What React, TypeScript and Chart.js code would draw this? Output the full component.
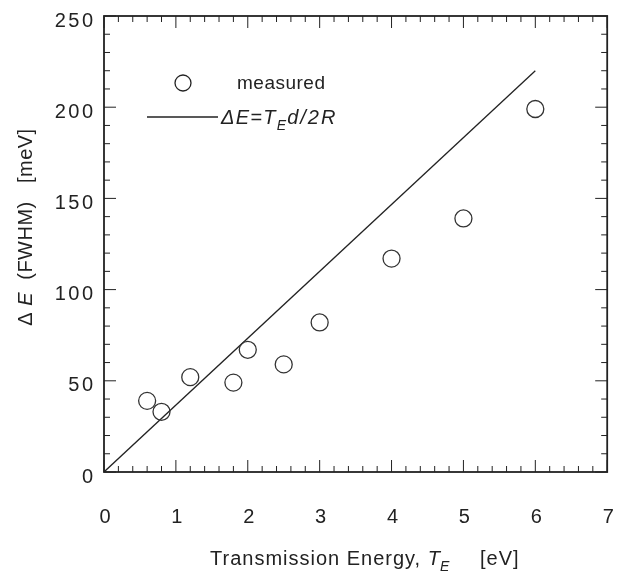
import React, { useEffect, useRef } from "react";
import { Chart, registerables } from "chart.js";

Chart.register(...registerables);

const xTickValues = [0, 1, 2, 3, 4, 5, 6, 7];
const yTickValues = [0, 50, 100, 150, 200, 250];
const energy = [0.6, 0.8, 1.2, 1.8, 2.0, 2.5, 3.0, 4.0, 5.0, 6.0];
const fwhm = [39, 33, 52, 49, 67, 59, 82, 117, 139, 199];
const lineX = [0, 6];
const lineY = [0, 220];

const FONT = "'Liberation Sans', Arial, Helvetica, sans-serif";
const INK = "#222";

type Piece = { t: string; font: string; dy?: number; ls?: number };

function drawPieces(ctx: CanvasRenderingContext2D, pieces: Piece[], x: number, y: number) {
  let cx = x;
  for (const p of pieces) {
    ctx.font = p.font;
    (ctx as any).letterSpacing = `${p.ls || 0}px`;
    ctx.fillText(p.t, cx, y + (p.dy || 0));
    cx += ctx.measureText(p.t).width;
  }
  (ctx as any).letterSpacing = "0px";
  return cx - x;
}
function measurePieces(ctx: CanvasRenderingContext2D, pieces: Piece[]) {
  let w = 0;
  for (const p of pieces) {
    ctx.font = p.font;
    (ctx as any).letterSpacing = `${p.ls || 0}px`;
    w += ctx.measureText(p.t).width;
  }
  (ctx as any).letterSpacing = "0px";
  return w;
}

const decorPlugin = {
  id: "decor",
  afterDraw(chart: any) {
    const ctx: CanvasRenderingContext2D = chart.ctx;
    const xs = chart.scales.x;
    const ys = chart.scales.y;
    const { left, right, top, bottom } = chart.chartArea;
    ctx.save();
    ctx.strokeStyle = INK;
    // frame
    ctx.lineWidth = 1.8;
    ctx.strokeRect(left, top, right - left, bottom - top);
    // ticks
    ctx.lineWidth = 1;
    for (let i = 0; i <= 35; i++) {
      const v = i * 0.2;
      const px = xs.getPixelForValue(v);
      const len = i % 5 === 0 ? 12 : 6;
      ctx.beginPath();
      ctx.moveTo(px, bottom);
      ctx.lineTo(px, bottom - len);
      ctx.moveTo(px, top);
      ctx.lineTo(px, top + len);
      ctx.stroke();
    }
    for (let i = 0; i <= 25; i++) {
      const v = i * 10;
      const py = ys.getPixelForValue(v);
      const len = i % 5 === 0 ? 12 : 6;
      ctx.beginPath();
      ctx.moveTo(left, py);
      ctx.lineTo(left + len, py);
      ctx.moveTo(right, py);
      ctx.lineTo(right - len, py);
      ctx.stroke();
    }
    ctx.fillStyle = INK;
    ctx.textBaseline = "alphabetic";
    ctx.textAlign = "left";
    // tick labels
    const tickFont = `20px ${FONT}`;
    for (const v of xTickValues) {
      const s = String(v);
      const w = measurePieces(ctx, [{ t: s, font: tickFont, ls: 1.5 }]) - 1.5;
      drawPieces(ctx, [{ t: s, font: tickFont, ls: 1.5 }], xs.getPixelForValue(v) - w / 2 + 1, 523);
    }
    for (const v of yTickValues) {
      const s = String(v);
      const w = measurePieces(ctx, [{ t: s, font: tickFont, ls: 2.5 }]) - 2.5;
      drawPieces(ctx, [{ t: s, font: tickFont, ls: 2.5 }], 93 - w, ys.getPixelForValue(v) + 10.5);
    }
    // legend
    ctx.lineWidth = 1.3;
    ctx.beginPath();
    ctx.arc(183, 83, 8, 0, Math.PI * 2);
    ctx.stroke();
    drawPieces(ctx, [{ t: "measured", font: `19px ${FONT}`, ls: 0.5 }], 237, 89);
    ctx.beginPath();
    ctx.moveTo(147, 117);
    ctx.lineTo(218, 117);
    ctx.stroke();
    drawPieces(ctx, [
      { t: "ΔE=T", font: `italic 20px ${FONT}`, ls: 1.3 },
      { t: "E", font: `italic 14px ${FONT}`, dy: 6, ls: 1 },
      { t: "d/2R", font: `italic 20px ${FONT}`, ls: 2 },
    ], 221, 124);
    // x title
    const tEnd = drawPieces(ctx, [
      { t: "Transmission Energy, ", font: `20px ${FONT}`, ls: 1 },
      { t: "T", font: `italic 20px ${FONT}` },
      { t: "E", font: `italic 14px ${FONT}`, dy: 6 },
    ], 210, 565);
    drawPieces(ctx, [{ t: "[eV]", font: `20px ${FONT}`, ls: 1 }], Math.max(480, 210 + tEnd + 25), 565);
    // y title
    const yPieces: Piece[] = [
      { t: "Δ ", font: `20px ${FONT}`, ls: 0.5 },
      { t: "E", font: `italic 20px ${FONT}`, ls: 0.5 },
      { t: "  (FWHM)   [meV]", font: `20px ${FONT}`, ls: 0.5 },
    ];
    const w = measurePieces(ctx, yPieces);
    ctx.translate(32, 227);
    ctx.rotate(-Math.PI / 2);
    drawPieces(ctx, yPieces, -w / 2, 0);
    ctx.restore();
  },
};

export default function App() {
  const ref = useRef<HTMLCanvasElement | null>(null);
  useEffect(() => {
    document.body.style.margin = "0";
    const canvas = ref.current;
    if (!canvas) return;
    const chart = new Chart(canvas, {
      type: "scatter",
      data: {
        datasets: [
          {
            label: "measured",
            data: energy.map((x, i) => ({ x, y: fwhm[i] })),
            pointStyle: "circle",
            pointRadius: 8.5,
            pointBorderWidth: 1.3,
            borderColor: "#333",
            backgroundColor: "rgba(0,0,0,0)",
            showLine: false,
          },
          {
            label: "ΔE=T_E d/2R",
            data: lineX.map((x, i) => ({ x, y: lineY[i] })),
            showLine: true,
            pointRadius: 0,
            borderColor: INK,
            borderWidth: 1.3,
            backgroundColor: "rgba(0,0,0,0)",
          },
        ],
      },
      options: {
        animation: false,
        responsive: true,
        maintainAspectRatio: false,
        layout: { padding: { left: 0, right: 4, top: 16, bottom: 0 } },
        plugins: { legend: { display: false }, tooltip: { enabled: false } },
        scales: {
          x: {
            type: "linear",
            min: 0,
            max: 7,
            ticks: { display: false },
            grid: { display: false },
            border: { display: false },
            afterFit: (scale: any) => {
              scale.height = 104;
              scale.paddingLeft = 0;
              scale.paddingRight = 0;
            },
          },
          y: {
            type: "linear",
            min: 0,
            max: 250,
            ticks: { display: false },
            grid: { display: false },
            border: { display: false },
            afterFit: (scale: any) => {
              scale.width = 104;
              scale.paddingTop = 0;
              scale.paddingBottom = 0;
            },
          },
        },
      },
      plugins: [decorPlugin],
    } as any);
    return () => chart.destroy();
  }, []);
  return (
    <div style={{ width: 617, height: 576, position: "relative", background: "#fff" }}>
      <canvas ref={ref} />
    </div>
  );
}
